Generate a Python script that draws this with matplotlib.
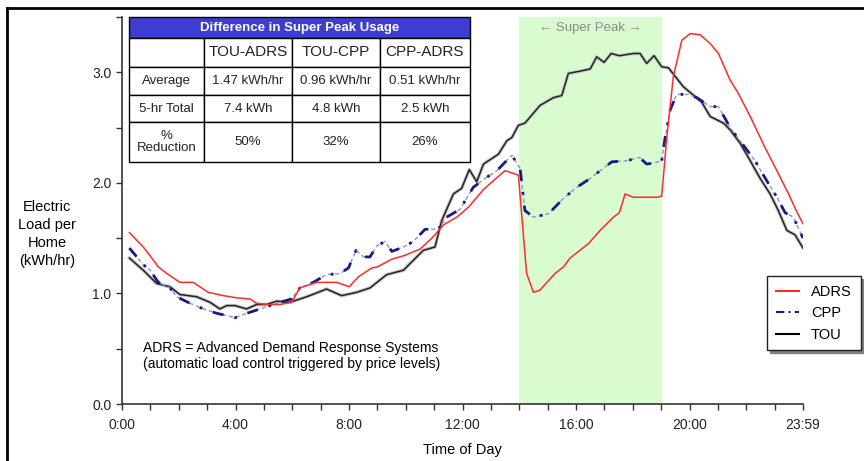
import matplotlib.pyplot as plt
from matplotlib.patches import Rectangle
from matplotlib.lines import Line2D

plt.rcParams['font.family'] = ['Liberation Sans', 'DejaVu Sans']

# Data (hour of day, kWh/hr)
adrs_hours = [0.26, 0.75, 0.99, 1.28, 1.58, 2.04, 2.51, 3.04, 3.57, 4.04, 4.51, 4.75,
              5.1, 5.57, 5.98, 6.27, 6.86, 7.57, 8.01, 8.33, 8.8, 9.0, 9.51, 9.92,
              10.5, 10.92, 11.33, 11.8, 12.21, 12.74, 13.09, 13.5, 13.97, 14.26, 14.5,
              14.73, 15.26, 15.56, 15.79, 16.44, 16.85, 17.32, 17.53, 17.73, 18.02,
              18.49, 18.85, 19.02, 19.2, 19.43, 19.73, 20.02, 20.37, 20.73, 21.02,
              21.43, 21.72, 22.14, 22.66, 23.08, 23.49, 23.78, 24.0]
adrs_load = [1.55, 1.42, 1.34, 1.24, 1.18, 1.10, 1.10, 1.01, 0.98, 0.96, 0.95, 0.91,
             0.90, 0.90, 0.92, 1.05, 1.10, 1.10, 1.06, 1.15, 1.23, 1.24, 1.31, 1.34,
             1.40, 1.50, 1.62, 1.69, 1.78, 1.94, 2.02, 2.11, 2.07, 1.18, 1.01,
             1.03, 1.18, 1.24, 1.32, 1.45, 1.57, 1.69, 1.73, 1.90, 1.87,
             1.87, 1.87, 1.88, 2.41, 2.96, 3.29, 3.35, 3.34, 3.26, 3.17,
             2.93, 2.81, 2.60, 2.32, 2.11, 1.90, 1.74, 1.63]

cpp_hours = [0.26, 0.75, 0.99, 1.28, 1.69, 1.93, 2.4, 2.87, 3.34, 3.69, 3.98, 4.28,
             4.75, 5.1, 5.57, 5.98, 6.27, 6.74, 7.21, 7.68, 7.98, 8.25, 8.51, 8.74,
             8.98, 9.27, 9.51, 9.92, 10.27, 10.68, 11.15, 11.44, 11.91, 12.38, 12.85,
             13.21, 13.74, 14.03, 14.2, 14.5, 15.03, 15.56, 16.03, 16.5, 16.85, 17.26,
             17.79, 18.24, 18.49, 18.75, 19.02, 19.14, 19.32, 19.55, 19.96, 20.26,
             20.73, 21.02, 21.43, 21.84, 22.31, 22.72, 23.08, 23.37, 23.66, 24.0]
cpp_load = [1.41, 1.26, 1.21, 1.10, 1.05, 0.97, 0.91, 0.86, 0.82, 0.80, 0.78, 0.81,
            0.85, 0.88, 0.92, 0.95, 1.05, 1.10, 1.17, 1.18, 1.23, 1.39, 1.33, 1.33,
            1.43, 1.47, 1.38, 1.42, 1.47, 1.58, 1.58, 1.69, 1.76, 1.96, 2.05,
            2.11, 2.25, 2.13, 1.75, 1.69, 1.72, 1.86, 1.96, 2.04, 2.11, 2.19,
            2.20, 2.23, 2.17, 2.18, 2.20, 2.41, 2.66, 2.80, 2.80, 2.77,
            2.69, 2.69, 2.50, 2.36, 2.20, 2.02, 1.87, 1.73, 1.69, 1.50]

tou_hours = [0.26, 0.75, 1.22, 1.69, 2.04, 2.63, 3.1, 3.45, 3.69, 3.98, 4.39, 4.75,
             5.1, 5.45, 5.92, 6.51, 7.21, 7.74, 8.27, 8.74, 9.33, 9.92, 10.62, 11.03,
             11.27, 11.68, 11.97, 12.24, 12.5, 12.74, 13.27, 13.56, 13.74, 13.97, 14.2,
             14.73, 15.2, 15.5, 15.73, 16.14, 16.5, 16.73, 16.99, 17.24, 17.53, 18.02,
             18.26, 18.49, 18.75, 19.02, 19.26, 19.78, 20.2, 20.43, 20.73, 21.2, 21.43,
             21.78, 22.14, 22.49, 22.84, 23.13, 23.43, 23.72, 24.0]
tou_load = [1.32, 1.21, 1.09, 1.06, 0.99, 0.97, 0.92, 0.86, 0.89, 0.89, 0.86, 0.90,
            0.90, 0.93, 0.92, 0.97, 1.04, 0.98, 1.01, 1.05, 1.17, 1.21, 1.39, 1.42,
            1.66, 1.90, 1.95, 2.12, 2.01, 2.17, 2.26, 2.38, 2.41, 2.52, 2.54,
            2.70, 2.77, 2.79, 2.99, 3.01, 3.03, 3.14, 3.09, 3.17, 3.15, 3.17,
            3.17, 3.08, 3.15, 3.05, 3.04, 2.87, 2.78, 2.73, 2.60, 2.54, 2.48,
            2.36, 2.20, 2.04, 1.90, 1.75, 1.57, 1.53, 1.41]

peak_start, peak_end = 14, 19

tick_hours = [0, 4, 8, 12, 16, 20, 24]
tick_labels = ['0:00', '4:00', '8:00', '12:00', '16:00', '20:00', '23:59']

col_labels = ['', 'TOU-ADRS', 'TOU-CPP', 'CPP-ADRS']
row_labels = ['Average', '5-hr Total', '%\nReduction']
table_values = [['1.47 kWh/hr', '0.96 kWh/hr', '0.51 kWh/hr'],
                ['7.4 kWh', '4.8 kWh', '2.5 kWh'],
                ['50%', '32%', '26%']]

fig = plt.figure(figsize=(8.64, 4.61), dpi=100)
ax = fig.add_axes([122 / 864, 1 - 404 / 461, 681 / 864, 387 / 461])

ax.axvspan(peak_start, peak_end, color='#d8fcd0', zorder=0)
ax.text((peak_start + peak_end) / 2, 3.40, '\u2190 Super Peak \u2192', color='#8a8a8a',
        fontsize=9.5, ha='center', va='center')

ax.plot(tou_hours, tou_load, color='#c8c8c8', lw=2.6, zorder=2, solid_joinstyle='round')
ax.plot(tou_hours, tou_load, color='#222222', lw=1.1, zorder=3, label='TOU')
ax.plot(cpp_hours, cpp_load, color='#9090c8', lw=1.0, zorder=3, linestyle=(0, (3, 2)))
ax.plot(cpp_hours, cpp_load, color='#1a1a86', lw=2.0, zorder=4, linestyle=(0, (4, 4, 1, 4)))
ax.plot(adrs_hours, adrs_load, color='#ff2a2a', lw=1.1, zorder=5, label='ADRS')

ax.set_xlim(0, 24)
ax.set_ylim(0, 3.5)
ax.set_xticks(range(25), minor=True)
ax.set_xticks(tick_hours)
ax.set_xticklabels(tick_labels)
ax.set_yticks([0, 1, 2, 3])
ax.set_yticklabels(['0.0', '1.0', '2.0', '3.0'])
ax.set_yticks([0.5, 1.5, 2.5, 3.5], minor=True)
ax.tick_params(which='both', direction='out', length=4, width=1, labelsize=10,
               colors='#333333', labelcolor='#222222')
ax.tick_params(axis='x', pad=6)
for s in ['top', 'right']:
    ax.spines[s].set_visible(False)
for s in ['left', 'bottom']:
    ax.spines[s].set_color('#333333')
    ax.spines[s].set_linewidth(1.2)
ax.set_xlabel('Time of Day', fontsize=10.5, labelpad=8)
ax.get_xticklabels()[-1].set_x(24.2)

fig.text(47 / 864, 1 - 234 / 461, 'Electric\nLoad per\nHome\n(kWh/hr)', ha='center',
         va='center', fontsize=10.5, linespacing=1.35)

ax.text(0.73, 0.435, 'ADRS = Advanced Demand Response Systems\n'
        '(automatic load control triggered by price levels)', fontsize=10,
        va='center', ha='left', linespacing=1.25)

# legend
handles = [Line2D([], [], color='#ff2a2a', lw=1.5),
           Line2D([], [], color='#1a1a86', lw=1.5, linestyle=(0, (4, 2, 1, 2))),
           Line2D([], [], color='black', lw=1.5)]
leg = fig.legend(handles, ['ADRS', 'CPP', 'TOU'], loc='upper left',
                 bbox_to_anchor=(760 / 864, 1 - 269 / 461), fontsize=10.5,
                 frameon=True, fancybox=False, shadow={'color': '#808080', 'alpha': 1},
                 edgecolor='#222222', handlelength=1.6, borderpad=0.6, labelspacing=0.5,
                 handletextpad=0.8)
leg.get_frame().set_linewidth(1.0)

# table
tx0 = (129 - 122) / 681
tx1 = (470 - 122) / 681
ty_top = (404 - 17) / 387
ty_head = (404 - 38) / 387
ty_bot = (404 - 162) / 387
ax.add_patch(Rectangle((tx0, ty_head), tx1 - tx0, ty_top - ty_head, transform=ax.transAxes,
                       facecolor='#3d3dd2', edgecolor='black', lw=1.0, clip_on=False, zorder=6))
ax.text((tx0 + tx1) / 2, (ty_top + ty_head) / 2, 'Difference in Super Peak Usage',
        transform=ax.transAxes, color='white', fontweight='bold', fontsize=9.5,
        ha='center', va='center', zorder=7)

tbl = ax.table(cellText=[[''] + col_labels[1:]] + [[r] + v for r, v in zip(row_labels, table_values)],
               cellLoc='center', bbox=[tx0, ty_bot, tx1 - tx0, ty_head - ty_bot], zorder=6)
tbl.auto_set_font_size(False)
col_w = [75, 88, 88, 90]
row_h = [29, 28, 27, 40]
for (r, c), cell in tbl.get_celld().items():
    cell.set_width(col_w[c])
    cell.set_height(row_h[r])
    cell.set_facecolor('white')
    cell.set_edgecolor('black')
    cell.set_linewidth(1.0)
    cell.get_text().set_fontsize(11 if r == 0 else 9.5)
    cell.get_text().set_color('#222222')
    cell.get_text().set_linespacing(1.1)

# outer frame of the picture
fig.add_artist(Line2D([7 / 864, 7 / 864], [0, 1 - 8 / 461], color='black', lw=2))
fig.add_artist(Line2D([7 / 864, 1], [1 - 8 / 461, 1 - 8 / 461], color='black', lw=2))

fig.savefig('out.png', dpi=100)
